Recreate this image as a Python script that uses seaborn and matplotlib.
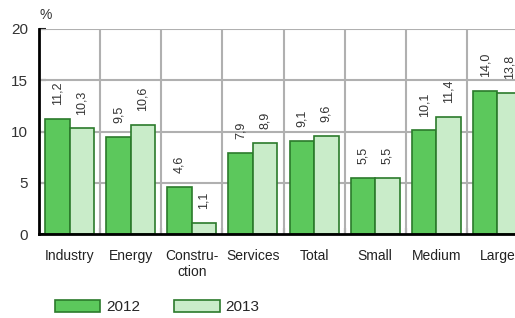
import pandas as pd
import matplotlib.pyplot as plt
import seaborn as sns

# Data
categories = ['Industry', 'Energy', 'Constru-\nction', 'Services', 'Total', 'Small', 'Medium', 'Large']
values_2012 = [11.2, 9.5, 4.6, 7.9, 9.1, 5.5, 10.1, 14.0]
values_2013 = [10.3, 10.6, 1.1, 8.9, 9.6, 5.5, 11.4, 13.8]
years = ['2012', '2013']

df = pd.DataFrame({
    'category': categories * 2,
    'year': [years[0]] * len(categories) + [years[1]] * len(categories),
    'value': values_2012 + values_2013,
})

sns.set_style('white')
plt.rcParams['font.family'] = ['Liberation Sans', 'DejaVu Sans']

palette = {'2012': '#5cc85c', '2013': '#c9ecc9'}
edge = '#2b7a2b'

fig = plt.figure(figsize=(5.15, 3.18), dpi=100)
ax = fig.add_axes([39 / 515, 1 - 234 / 318, 489 / 515, 205 / 318])

sns.barplot(data=df, x='category', y='value', hue='year', palette=palette,
            saturation=1, width=0.8, edgecolor=edge, linewidth=1.2, ax=ax, zorder=3)

ax.set_ylim(0, 20)
ax.set_xlim(-0.5, len(categories) - 0.5)
ax.set_yticks([0, 5, 10, 15, 20])
ax.set_xlabel('')
ax.set_ylabel('')

# grid: horizontal at y ticks, vertical at category boundaries
for y in [5, 10, 15, 20]:
    ax.axhline(y, color='#b0b0b0', lw=1.5, zorder=1)
for i in range(1, len(categories)):
    ax.axvline(i - 0.5, color='#b0b0b0', lw=1.5, zorder=1)

for s in ['top', 'right']:
    ax.spines[s].set_visible(False)
for s in ['left', 'bottom']:
    ax.spines[s].set_color('black')
    ax.spines[s].set_linewidth(2)
    ax.spines[s].set_zorder(5)

ax.tick_params(axis='y', direction='in', length=5, width=1.5, labelsize=11,
               labelcolor='#333333', pad=8, left=True)
ax.tick_params(axis='x', length=0, labelsize=10, labelcolor='#222222', pad=11)
ax.set_xticks(range(len(categories)))
ax.set_xticklabels(categories, linespacing=1.2)
# minor ticks at boundaries
ax.set_xticks([i - 0.5 for i in range(1, len(categories))], minor=True)
ax.tick_params(axis='x', which='minor', direction='in', length=4, width=1.5, bottom=True)

# value labels
for container in ax.containers:
    labels = [f'{v:.1f}'.replace('.', ',') for v in container.datavalues]
    ax.bar_label(container, labels=labels, rotation=90, padding=10, fontsize=9,
                 color='#333333')

ax.text(0.0, 1.035, '%', transform=ax.transAxes, fontsize=10, color='#333333',
        ha='left', va='bottom')

handles, labs = ax.get_legend_handles_labels()
ax.legend(handles, labs, loc='lower left', bbox_to_anchor=(0.02, -0.42),
          borderaxespad=0, ncol=2, frameon=False, fontsize=11, handlelength=2.95,
          handleheight=0.8, columnspacing=2.25, handletextpad=0.4)

fig.savefig('out.png', dpi=100)
